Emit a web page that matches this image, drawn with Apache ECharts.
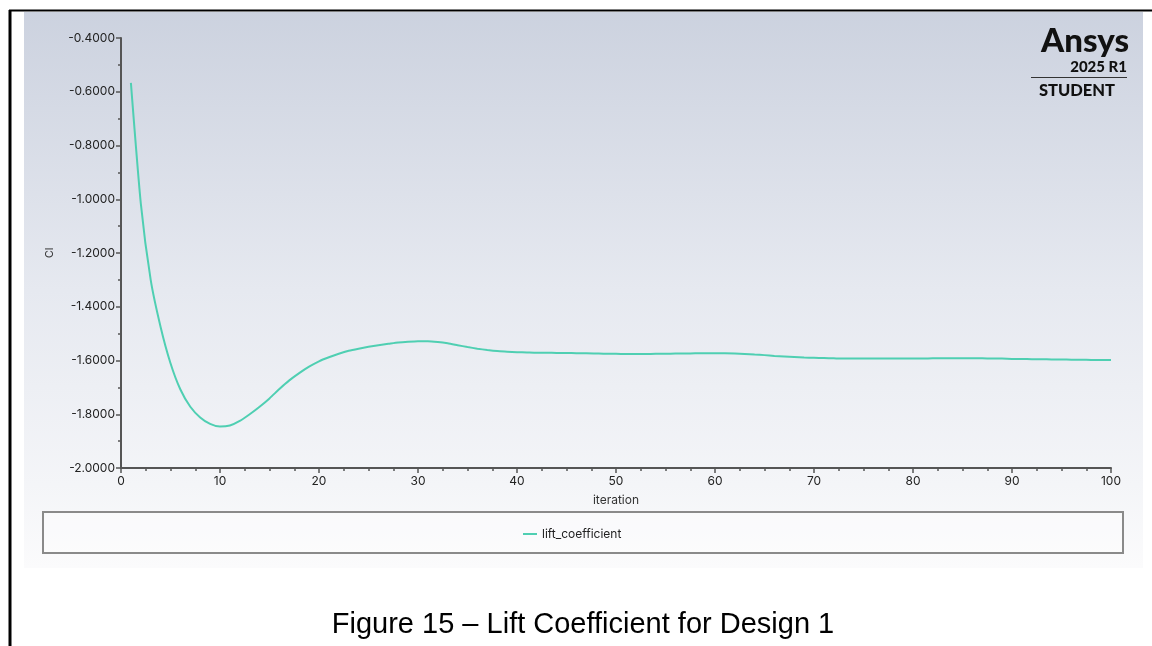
<!DOCTYPE html>
<html>
<head>
<meta charset="utf-8">
<script src="https://cdn.jsdelivr.net/npm/echarts@6/dist/echarts.min.js"></script>
<style>
  html, body { margin: 0; padding: 0; background: #ffffff; }
  #chart { width: 1152px; height: 646px; }
</style>
</head>
<body>
<div id="chart"></div>
<script>
// Lift coefficient history, one value per solver iteration
const iterations = Array.from({ length: 100 }, (_, i) => i + 1);
const liftCoefficient = [
  -0.567, -1.015, -1.300, -1.475, -1.610, -1.708, -1.772, -1.812, -1.836, -1.846,
  -1.842, -1.825, -1.800, -1.772, -1.741, -1.706, -1.674, -1.647, -1.623, -1.603,
  -1.588, -1.575, -1.564, -1.556, -1.549, -1.543, -1.538, -1.533, -1.530, -1.528,
  -1.528, -1.531, -1.536, -1.543, -1.550, -1.556, -1.561, -1.565, -1.567, -1.569,
  -1.570, -1.571, -1.571, -1.572, -1.572, -1.573, -1.573, -1.574, -1.575, -1.575,
  -1.576, -1.576, -1.576, -1.575, -1.575, -1.574, -1.574, -1.573, -1.573, -1.573,
  -1.573, -1.574, -1.576, -1.578, -1.580, -1.583, -1.585, -1.587, -1.589, -1.590,
  -1.591, -1.592, -1.593, -1.593, -1.593, -1.593, -1.593, -1.593, -1.593, -1.593,
  -1.593, -1.592, -1.592, -1.592, -1.592, -1.592, -1.592, -1.593, -1.593, -1.594,
  -1.594, -1.595, -1.595, -1.596, -1.596, -1.597, -1.597, -1.598, -1.598, -1.598
];
const seriesName = 'lift_coefficient';
const xAxisName = 'iteration';
const yAxisName = 'Cl';
const captionText = 'Figure 15 \u2013 Lift Coefficient for Design 1';

const axisFont = 'Inter, "Noto Sans", sans-serif';
const axisColor = '#555';

const chart = echarts.init(document.getElementById('chart'), null, { renderer: 'canvas' });

chart.setOption({
  backgroundColor: '#ffffff',
  animation: false,
  graphic: [
    // graphics panel with vertical gradient
    {
      type: 'rect', z: -10, silent: true,
      shape: { x: 24, y: 12, width: 1119, height: 556 },
      style: {
        fill: new echarts.graphic.LinearGradient(0, 0, 0, 1, [
          { offset: 0, color: '#ccd2df' },
          { offset: 0.5, color: '#e6e9f0' },
          { offset: 0.85, color: '#f4f5f8' },
          { offset: 1, color: '#fbfbfc' }
        ])
      }
    },
    // page frame lines
    { type: 'line', z: 10, silent: true, shape: { x1: 10, y1: 10, x2: 10, y2: 646 }, style: { stroke: '#000', lineWidth: 3 } },
    { type: 'line', z: 10, silent: true, shape: { x1: 9, y1: 10.5, x2: 1152, y2: 10.5 }, style: { stroke: '#000', lineWidth: 2 } },
    // legend box
    {
      type: 'rect', z: 1, silent: true,
      shape: { x: 43, y: 512, width: 1080, height: 41 },
      style: { fill: 'rgba(255,255,255,0.35)', stroke: '#8a8a8a', lineWidth: 2 }
    },
    // product badge
    {
      type: 'text', z: 5, silent: true,
      x: 1129, y: 41,
      style: { text: 'Ansys', font: '900 33px Lato, Inter, sans-serif', fill: '#111', align: 'right', verticalAlign: 'middle' }
    },
    {
      type: 'text', z: 5, silent: true,
      x: 1127, y: 67,
      style: { text: '2025 R1', font: '900 15px Lato, Inter, sans-serif', fill: '#111', align: 'right', verticalAlign: 'middle' }
    },
    { type: 'line', z: 5, silent: true, shape: { x1: 1031, y1: 77.5, x2: 1127, y2: 77.5 }, style: { stroke: '#333', lineWidth: 1.2 } },
    {
      type: 'text', z: 5, silent: true,
      x: 1077, y: 91,
      style: { text: 'STUDENT', font: '900 16.5px Lato, Inter, sans-serif', fill: '#111', align: 'center', verticalAlign: 'middle' }
    },
    // figure caption
    {
      type: 'text', z: 5, silent: true,
      x: 583, y: 625,
      style: { text: captionText, font: '29px "Liberation Sans", Arial, sans-serif', fill: '#000', align: 'center', verticalAlign: 'middle' }
    }
  ],
  grid: { left: 121, right: 41, top: 38, bottom: 178, containLabel: false },
  legend: {
    left: 518, top: 523,
    icon: 'rect', itemWidth: 14, itemHeight: 2, itemGap: 10,
    textStyle: { fontFamily: axisFont, fontSize: 12, color: '#222' },
    data: [seriesName]
  },
  xAxis: {
    type: 'value', min: 0, max: 100, interval: 10,
    name: xAxisName, nameLocation: 'middle', nameGap: 26,
    nameTextStyle: { fontFamily: axisFont, fontSize: 12, color: '#333' },
    axisLine: { show: true, onZero: false, lineStyle: { color: axisColor, width: 2 } },
    axisTick: { show: true, length: 5, lineStyle: { color: axisColor, width: 1.5 } },
    minorTick: { show: true, splitNumber: 4, length: 3, lineStyle: { color: axisColor, width: 1.5 } },
    splitLine: { show: false },
    axisLabel: { fontFamily: axisFont, fontSize: 12, color: '#222', margin: 7 }
  },
  yAxis: {
    type: 'value', min: -2, max: -0.4, interval: 0.2,
    name: yAxisName, nameLocation: 'middle', nameGap: 66, nameRotate: 90,
    nameTextStyle: { fontFamily: axisFont, fontSize: 11, color: '#333' },
    axisLine: { show: true, onZero: false, lineStyle: { color: axisColor, width: 2 } },
    axisTick: { show: true, length: 5, lineStyle: { color: axisColor, width: 1.5 } },
    minorTick: { show: true, splitNumber: 2, length: 3, lineStyle: { color: axisColor, width: 1.5 } },
    splitLine: { show: false },
    axisLabel: {
      fontFamily: axisFont, fontSize: 12, color: '#222', margin: 6,
      formatter: v => v.toFixed(4)
    }
  },
  series: [{
    name: seriesName,
    type: 'line',
    data: iterations.map((it, i) => [it, liftCoefficient[i]]),
    showSymbol: false,
    smooth: 0.2,
    lineStyle: { color: '#4fcfb2', width: 2 },
    itemStyle: { color: '#4fcfb2' }
  }]
});
</script>
</body>
</html>
